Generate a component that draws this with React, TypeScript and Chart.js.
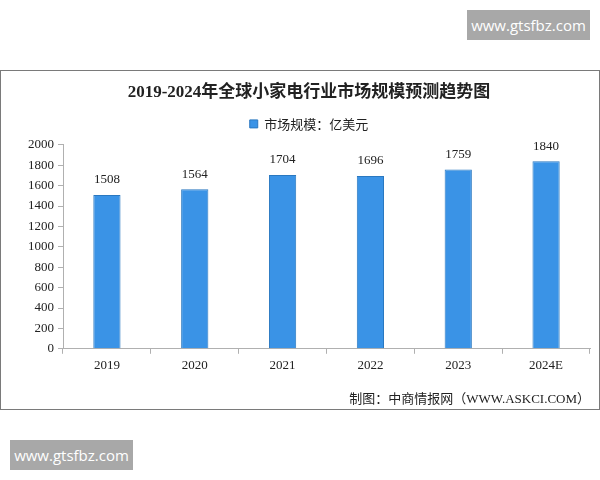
import { useEffect, useRef } from 'react';
import { Chart, registerables } from 'chart.js';

Chart.register(...registerables);

const years = ['2019', '2020', '2021', '2022', '2023', '2024E'];
const marketSize = [1508, 1564, 1704, 1696, 1759, 1840];
const yTicks = [0, 200, 400, 600, 800, 1000, 1200, 1400, 1600, 1800, 2000];

const serif = "'Liberation Serif', 'Noto Sans CJK SC', serif";
const cjk = "'Noto Sans CJK SC', 'Liberation Serif', sans-serif";

// value labels above each bar
const valueLabels = {
  id: 'valueLabels',
  afterDatasetsDraw(chart: Chart) {
    const ctx = chart.ctx;
    const meta = chart.getDatasetMeta(0);
    ctx.save();
    ctx.font = `13px ${serif}`;
    ctx.fillStyle = '#222';
    ctx.textAlign = 'center';
    ctx.textBaseline = 'middle';
    meta.data.forEach((bar: any, i: number) => {
      ctx.fillText(String(marketSize[i]), bar.x, bar.y - 15);
    });
    ctx.restore();
  },
};

function Badge({ left, top }: { left: number; top: number }) {
  return (
    <div
      style={{
        position: 'absolute',
        left,
        top,
        width: 123,
        height: 30,
        background: '#a8a8a8',
        color: '#fff',
        fontFamily: "'Open Sans', 'Noto Sans', sans-serif",
        fontSize: 15,
        lineHeight: '30px',
        textAlign: 'center',
      }}
    >
      www.gtsfbz.com
    </div>
  );
}

export default function App() {
  const chartRef = useRef<HTMLCanvasElement>(null);
  const chartInstance = useRef<Chart | null>(null);

  useEffect(() => {
    if (!chartRef.current) return;
    if (chartInstance.current) chartInstance.current.destroy();

    chartInstance.current = new Chart(chartRef.current, {
      type: 'bar',
      data: {
        labels: years,
        datasets: [
          {
            label: '市场规模：亿美元',
            data: marketSize,
            backgroundColor: '#3a93e6',
            borderColor: '#2a78c0',
            borderWidth: 1,
            barPercentage: 0.31,
            categoryPercentage: 1,
          },
        ],
      },
      options: {
        animation: false,
        responsive: false,
        layout: { padding: { left: 27, right: 9, top: 0, bottom: 0 } },
        scales: {
          x: {
            grid: { drawOnChartArea: false, tickLength: 5, color: '#b0b0b0', offset: true },
            border: { color: '#b0b0b0' },
            ticks: { color: '#222', font: { family: serif, size: 13 }, padding: 4 },
          },
          // empty spacer between legend and plot
          xTop: {
            type: 'category',
            position: 'top',
            grid: { display: false },
            border: { display: false },
            ticks: { display: false },
            afterFit: (scale: any) => {
              scale.height = 4.5;
            },
          },
          y: {
            min: 0,
            max: 2000,
            afterFit: (scale: any) => {
              scale.width = 35;
            },
            afterBuildTicks: (scale: any) => {
              scale.ticks = yTicks.map((v) => ({ value: v }));
            },
            grid: { drawOnChartArea: false, tickLength: 5, color: '#b0b0b0' },
            border: { color: '#b0b0b0' },
            ticks: {
              color: '#222',
              font: { family: serif, size: 13 },
              padding: 4,
              callback: (v: any) => String(v),
            },
          },
        },
        plugins: {
          title: {
            display: true,
            text: '2019-2024年全球小家电行业市场规模预测趋势图',
            color: '#222',
            font: { family: serif, size: 17, weight: 'bold' },
            padding: { top: 11, bottom: 5 },
          },
          legend: {
            position: 'top',
            labels: {
              boxWidth: 8,
              boxHeight: 8,
              padding: 10,
              color: '#222',
              font: { family: cjk, size: 13 },
            },
          },
          subtitle: {
            display: true,
            position: 'bottom',
            align: 'end',
            text: '制图：中商情报网（WWW.ASKCI.COM）',
            color: '#222',
            font: { family: serif, size: 13 },
            padding: { top: 14, bottom: 2 },
          },
          tooltip: { enabled: false },
        },
      },
      plugins: [valueLabels],
    });

    return () => {
      if (chartInstance.current) {
        chartInstance.current.destroy();
        chartInstance.current = null;
      }
    };
  }, []);

  return (
    <div style={{ position: 'fixed', left: 0, top: 0, width: 600, height: 480, background: '#fff' }}>
      <Badge left={467} top={10} />
      <div
        style={{
          position: 'absolute',
          left: 0,
          top: 70,
          width: 600,
          height: 340,
          boxSizing: 'border-box',
          border: '1px solid #7a7a7a',
          background: '#fff',
        }}
      >
        <canvas ref={chartRef} width={598} height={338} style={{ display: 'block' }} />
      </div>
      <Badge left={10} top={440} />
    </div>
  );
}
